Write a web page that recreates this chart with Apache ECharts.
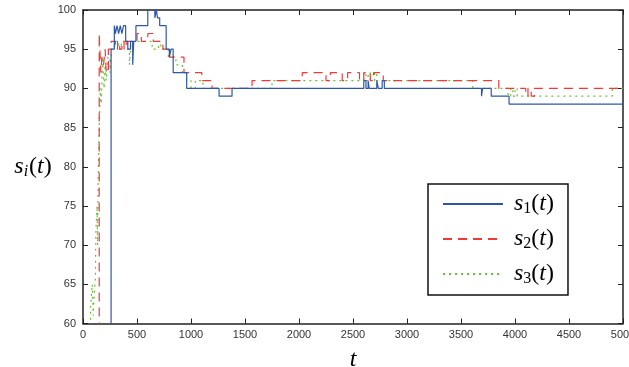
<!DOCTYPE html>
<html>
<head>
<meta charset="utf-8">
<script src="https://cdn.jsdelivr.net/npm/echarts@6/dist/echarts.min.js"></script>
<style>
  html, body { margin: 0; padding: 0; background: #fff; }
  #chart { width: 629px; height: 367px; }
</style>
</head>
<body>
<div id="chart"></div>
<script>
// Step series: each pair is [t, s] and the value holds until the next t.
const s1Points = [
  [0, 40], [260, 95], [290, 98], [300, 97], [315, 98], [330, 97], [345, 98], [360, 97],
  [375, 98], [395, 96], [415, 95], [440, 96], [460, 93], [470, 96], [490, 98],
  [600, 101], [665, 99], [680, 100], [690, 99], [710, 98], [770, 95], [800, 94],
  [815, 95], [835, 92], [960, 90], [1260, 89], [1380, 90], [2600, 91], [2620, 90],
  [2640, 91], [2650, 90], [2720, 91], [2735, 90], [2770, 91], [2790, 90], [3690, 89],
  [3700, 90], [3780, 89], [3945, 88], [5000, 88]
];
const s2Points = [
  [0, 40], [150, 97], [165, 92], [175, 94], [190, 93], [205, 95], [215, 92], [235, 95],
  [260, 96], [300, 95], [320, 96], [340, 95], [360, 96], [380, 95], [400, 96],
  [500, 97], [540, 96], [600, 97], [650, 96], [740, 95], [800, 94], [935, 92],
  [1100, 91], [1195, 90], [1565, 91], [2030, 92], [2200, 92], [2250, 91], [2290, 92],
  [2400, 91], [2450, 92], [2560, 91], [2600, 92], [2660, 91], [2690, 92], [2780, 91],
  [3850, 90], [4100, 89], [4120, 90], [4150, 89], [4180, 90], [5000, 90]
];
const s3Points = [
  [0, 40], [70, 62], [85, 65], [95, 61], [105, 64], [115, 66], [120, 72], [130, 75],
  [135, 70], [140, 78], [150, 85], [160, 90], [170, 88], [180, 94], [195, 90],
  [205, 93], [215, 91], [230, 94], [250, 92], [265, 95], [290, 96], [330, 95],
  [355, 96], [410, 95], [430, 93], [445, 96], [500, 96], [640, 95], [700, 96],
  [720, 95], [790, 94], [860, 93], [920, 92], [960, 91], [1000, 90], [1040, 91],
  [1110, 90], [1750, 91], [2600, 92], [2620, 91], [2640, 92], [2660, 91], [2700, 92],
  [2720, 91], [3610, 90], [3935, 89], [3960, 90], [3980, 89], [4000, 90], [4020, 89],
  [4900, 90], [5000, 90]
];
const seriesNames = ['s1', 's2', 's3'];
const xTicks = { min: 0, max: 5000, interval: 500 };
const yTicks = { min: 60, max: 100, interval: 5 };

const colors = ['#2f57a8', '#f03a3a', '#6bbf3a'];
const dashes = ['solid', [9, 6], [2, 4]];

const mathRich = {
  i: { fontFamily: 'Liberation Serif', fontStyle: 'italic', fontSize: 24, color: '#000' },
  p: { fontFamily: 'Liberation Serif', fontSize: 24, color: '#000' },
  sub: { fontFamily: 'Liberation Serif', fontSize: 16, color: '#000', verticalAlign: 'bottom', padding: [10, 0, 0, 0] },
  subi: { fontFamily: 'Liberation Serif', fontStyle: 'italic', fontSize: 16, color: '#000', verticalAlign: 'bottom', padding: [10, 1, 0, 0] }
};

function axisCommon() {
  return {
    axisLine: { show: true, onZero: false, lineStyle: { color: '#222', width: 1.5 } },
    axisTick: { show: true, inside: true, length: 5, lineStyle: { color: '#222', width: 1 } },
    splitLine: { show: false }
  };
}

const plainNumber = function (v) { return String(v); };

const chart = echarts.init(document.getElementById('chart'), null, { renderer: 'canvas' });
chart.setOption({
  animation: false,
  backgroundColor: '#fff',
  grid: { left: 83, right: 6, top: 10, bottom: 43.5, containLabel: false, outerBoundsMode: 'none' },
  xAxis: [
    Object.assign(axisCommon(), {
      type: 'value', min: xTicks.min, max: xTicks.max, interval: xTicks.interval,
      position: 'bottom',
      axisLabel: { color: '#333', fontFamily: 'Liberation Sans', fontSize: 11, margin: 6, formatter: plainNumber },
      name: '{i|t}', nameLocation: 'middle', nameGap: 24,
      nameTextStyle: { rich: mathRich }
    }),
    Object.assign(axisCommon(), {
      type: 'value', min: xTicks.min, max: xTicks.max, interval: xTicks.interval,
      position: 'top', axisLabel: { show: false }
    })
  ],
  yAxis: [
    Object.assign(axisCommon(), {
      type: 'value', min: yTicks.min, max: yTicks.max, interval: yTicks.interval,
      position: 'left',
      axisLabel: { color: '#333', fontFamily: 'Liberation Sans', fontSize: 11, margin: 7, formatter: plainNumber },
      name: '{i|s}{subi|i}{p|(}{i|t}{p|)}', nameLocation: 'middle', nameGap: 31, nameRotate: 0,
      nameTextStyle: { rich: mathRich }
    }),
    Object.assign(axisCommon(), {
      type: 'value', min: yTicks.min, max: yTicks.max, interval: yTicks.interval,
      position: 'right', axisLabel: { show: false }
    })
  ],
  legend: {
    orient: 'vertical',
    left: 428, top: 184,
    width: 138,
    padding: [8, 14, 8, 14],
    itemWidth: 60, itemHeight: 14, itemGap: 10,
    borderColor: '#111', borderWidth: 1.5,
    backgroundColor: '#fff',
    itemStyle: { opacity: 0 },
    data: seriesNames,
    formatter: function (name) {
      return '{i|s}{sub|' + name.slice(1) + '}{p|(}{i|t}{p|)}';
    },
    textStyle: { rich: mathRich, padding: [0, 0, 0, 6] }
  },
  series: [s1Points, s2Points, s3Points].map(function (pts, k) {
    return {
      name: seriesNames[k],
      type: 'line',
      step: 'end',
      data: pts,
      symbol: 'none',
      clip: true,
      color: colors[k],
      lineStyle: { color: colors[k], width: 1.2, type: dashes[k] },
      z: 3 - k
    };
  })
});
</script>
</body>
</html>
